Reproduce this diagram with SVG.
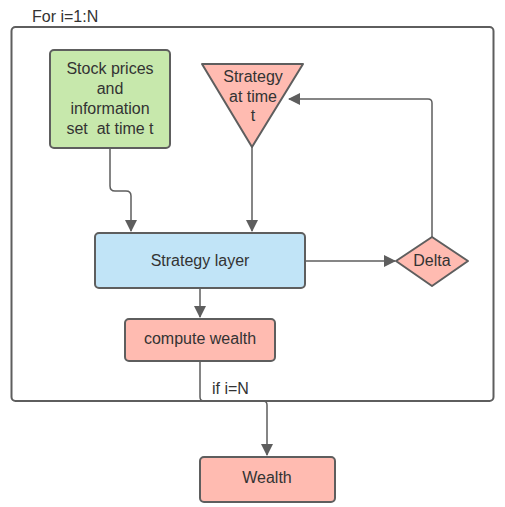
<svg xmlns="http://www.w3.org/2000/svg" width="505" height="507" viewBox="0 0 505 507">
<defs>
<style>
.n{stroke:#5e5e5e;stroke-width:2}
.t{font-family:"Liberation Sans",Arial,sans-serif;font-size:16px;fill:#333333;text-anchor:middle;white-space:pre}
.c{fill:none;stroke:#5e5e5e;stroke-width:1.5}
</style>
<marker id="a" markerWidth="12" markerHeight="14" refX="11" refY="6" orient="auto" markerUnits="userSpaceOnUse">
<path d="M0,0 L12,6 L0,12 Z" fill="#5e5e5e"/>
</marker>
</defs>
<rect width="505" height="507" fill="#ffffff"/>
<g id="frame">
<rect x="11.5" y="27" width="482" height="374" rx="4" fill="none" class="n"/>
<text x="32" y="22" class="t" style="text-anchor:start">For i=1:N</text>
</g>
<g id="connectors">
<path d="M110,148 V186 Q110,191 115,191 H126 Q131,191 131,196 V231" class="c" marker-end="url(#a)"/>
<path d="M252,147 V231" class="c" marker-end="url(#a)"/>
<path d="M305,261 H395" class="c" marker-end="url(#a)"/>
<path d="M432,237 V103 Q432,99 428,99 H289" class="c" marker-end="url(#a)"/>
<path d="M200,288 V317" class="c" marker-end="url(#a)"/>
<path d="M200,361 V397 Q200,401 204,401 H263 Q267,401 267,405 V455" class="c" marker-end="url(#a)"/>
</g>
<g id="stock">
<rect x="50" y="50" width="120" height="98" rx="4" fill="#c7e8ac" class="n"/>
<text class="t" xml:space="preserve"><tspan x="110" y="74">Stock prices</tspan><tspan x="110" y="94">and</tspan><tspan x="110" y="114">information</tspan><tspan x="110" y="134">set  at time t</tspan></text>
</g>
<g id="strategy">
<path d="M202,64 L303,64 L252,147 Z" fill="#ffbbb1" class="n" stroke-linejoin="round"/>
<text class="t"><tspan x="253" y="82">Strategy</tspan><tspan x="253" y="102">at time</tspan><tspan x="253" y="121">t</tspan></text>
</g>
<g id="layer">
<rect x="95" y="233" width="210" height="55" rx="4" fill="#c1e4f7" class="n"/>
<text x="200" y="266" class="t">Strategy layer</text>
</g>
<g id="delta">
<path d="M396,261 L432,237 L468,261 L432,286 Z" fill="#ffbbb1" class="n" stroke-linejoin="round"/>
<text x="432" y="266" class="t">Delta</text>
</g>
<g id="compute">
<rect x="125" y="319" width="150" height="42" rx="4" fill="#ffbbb1" class="n"/>
<text x="200" y="344" class="t">compute wealth</text>
</g>
<text x="212" y="394" class="t" style="text-anchor:start">if i=N</text>
<g id="wealth">
<rect x="200" y="457" width="135" height="45" rx="4" fill="#ffbbb1" class="n"/>
<text x="267" y="483" class="t">Wealth</text>
</g>
</svg>
